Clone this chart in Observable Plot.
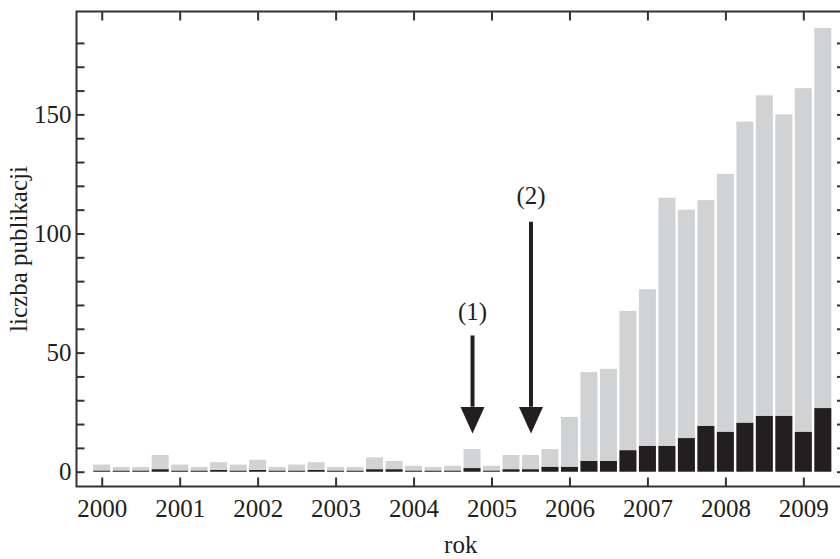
<!DOCTYPE html>
<html><head><meta charset="utf-8">
<script src="https://cdn.jsdelivr.net/npm/d3@7"></script>
<script src="https://cdn.jsdelivr.net/npm/@observablehq/plot@0.6"></script>
<style>
body{margin:0;background:#fff}
#chart{width:840px;height:559px;overflow:hidden}
#chart svg{max-width:none !important;display:block}
</style>
</head><body><div id="chart"></div>
<script>
// quarterly publication counts
const quarters = [
  2000, 2000.25, 2000.5, 2000.75,
  2001, 2001.25, 2001.5, 2001.75,
  2002, 2002.25, 2002.5, 2002.75,
  2003, 2003.25, 2003.5, 2003.75,
  2004, 2004.25, 2004.5, 2004.75,
  2005, 2005.25, 2005.5, 2005.75,
  2006, 2006.25, 2006.5, 2006.75,
  2007, 2007.25, 2007.5, 2007.75,
  2008, 2008.25, 2008.5, 2008.75,
  2009, 2009.25
];
const totals = [
  3, 2, 2, 7,
  3, 2, 4, 3,
  5, 2, 3, 4,
  2, 2, 6, 4.5,
  2.5, 2, 2.5, 9.5,
  2.5, 7, 7, 9.5,
  23, 41.8, 43.2, 67.5,
  76.6, 115, 110, 114,
  125, 147, 158, 150,
  161, 186.3
];
const subset = [
  0.4, 0.4, 0.4, 1,
  0.4, 0.4, 0.7, 0.4,
  0.7, 0.4, 0.4, 0.7,
  0.4, 0.4, 1, 1,
  0.4, 0.4, 0.4, 1.5,
  0.4, 1, 1, 2,
  2, 4.5, 4.5, 9,
  10.8, 10.8, 14.1, 19.2,
  16.7, 20.5, 23.4, 23.4,
  16.7, 26.7
];
const yLabelTicks = [0, 50, 100, 150];
const yMinorTicks = [0, 10, 20, 30, 40, 50, 60, 70, 80, 90, 100, 110, 120, 130, 140, 150, 160, 170, 180];
const yearTicks = [2000, 2001, 2002, 2003, 2004, 2005, 2006, 2007, 2008, 2009];

// annotations
const arrowX = [2004.75, 2005.5];
const arrowTail = [57.4, 105.1];
const arrowHeadBase = [27.5, 27.5];
const arrowTip = [16.2, 16.2];
const arrowLabels = ["(1)", "(2)"];
const arrowLabelY = [67.4, 116];

const xLabel = "rok";
const yLabel = "liczba publikacji";

const bars = quarters.map((q, i) => ({q, total: totals[i], sub: subset[i]}));
const arrows = arrowX.map((x, i) => ({x, tail: arrowTail[i], base: arrowHeadBase[i], tip: arrowTip[i], label: arrowLabels[i], ly: arrowLabelY[i]}));

const half = 0.109;
const ink = "#231f20";
const axisInk = "#333";
const serif = "Liberation Serif";
const fs = 25;
const headSymbol = {draw(ctx) { ctx.moveTo(0, 0); ctx.lineTo(-12, -26.5); ctx.lineTo(12, -26.5); ctx.closePath(); }};

const chart = Plot.plot({
  width: 850, height: 559,
  marginLeft: 76, marginRight: 5.5, marginTop: 11, marginBottom: 73,
  x: {domain: [1999.670, 2009.528]},
  y: {domain: [-6.0, 193.4]},
  style: {fontFamily: serif, fontSize: fs + "px", color: ink, background: "#fff", maxWidth: "none"},
  marks: [
    Plot.rect(bars, {x1: d => d.q - half, x2: d => d.q + half, y1: 0, y2: "total", fill: "#d1d2d4"}),
    Plot.rect(bars, {x1: d => d.q - half, x2: d => d.q + half, y1: 0, y2: "sub", fill: ink}),
    Plot.link(arrows, {x1: "x", x2: "x", y1: "tail", y2: "base", stroke: ink, strokeWidth: 4}),
    Plot.dot(arrows, {x: "x", y: "tip", symbol: headSymbol, fill: ink, stroke: null}),
    Plot.text(arrows, {x: "x", y: "ly", text: "label", fontSize: fs, fontFamily: serif, fill: ink}),
    Plot.axisY(yMinorTicks, {anchor: "left", tickSize: -8.5, tickFormat: () => "", label: null, stroke: axisInk, strokeWidth: 2}),
    Plot.axisY(yMinorTicks, {anchor: "right", tickSize: -8.5, tickFormat: () => "", label: null, stroke: axisInk, strokeWidth: 2}),
    Plot.axisX(yearTicks, {anchor: "top", tickSize: -8.5, tickFormat: () => "", label: null, stroke: axisInk, strokeWidth: 2}),
    Plot.axisX(yearTicks, {anchor: "bottom", tickSize: -8.5, tickFormat: () => "", label: null, stroke: axisInk, strokeWidth: 2}),
    Plot.axisY(yLabelTicks, {anchor: "left", tickSize: 0, tickPadding: 5, fontSize: fs, fontFamily: serif, label: yLabel, labelAnchor: "center", labelArrow: "none", labelOffset: 67}),
    Plot.axisX(yearTicks, {anchor: "bottom", tickSize: 0, tickPadding: 13, fontSize: fs, fontFamily: serif, tickFormat: d => String(d), label: xLabel, labelAnchor: "center", labelArrow: "none", labelOffset: 66}),
    Plot.frame({stroke: axisInk, strokeWidth: 2})
  ]
});
document.getElementById("chart").appendChild(chart);
</script>
</body></html>
